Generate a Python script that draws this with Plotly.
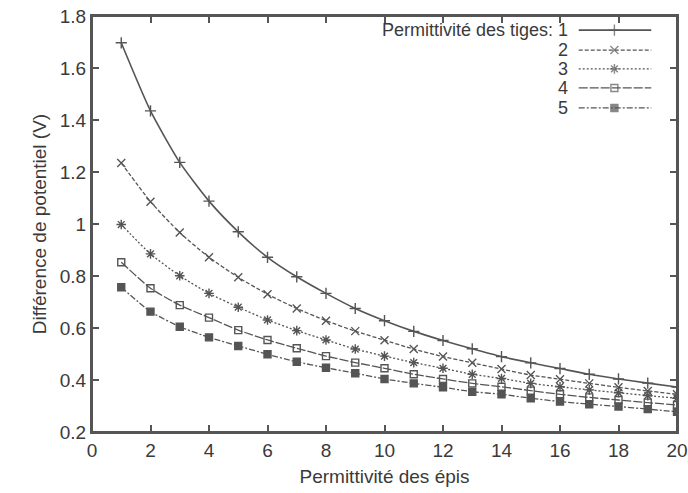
import plotly.graph_objects as go

x_vals = list(range(1, 21))
series_names = ["1", "2", "3", "4", "5"]
s1 = [1.697, 1.435, 1.237, 1.088, 0.970, 0.872, 0.797, 0.733, 0.675, 0.628,
      0.587, 0.552, 0.520, 0.490, 0.466, 0.444, 0.422, 0.404, 0.388, 0.373]
s2 = [1.235, 1.086, 0.967, 0.872, 0.795, 0.730, 0.675, 0.628, 0.588, 0.553,
      0.519, 0.490, 0.466, 0.442, 0.419, 0.403, 0.387, 0.372, 0.358, 0.345]
s3 = [0.998, 0.885, 0.801, 0.733, 0.680, 0.631, 0.590, 0.554, 0.519, 0.492,
      0.467, 0.445, 0.422, 0.406, 0.387, 0.374, 0.362, 0.351, 0.340, 0.330]
s4 = [0.853, 0.753, 0.688, 0.640, 0.592, 0.554, 0.522, 0.492, 0.467, 0.445,
      0.422, 0.404, 0.387, 0.374, 0.359, 0.345, 0.333, 0.323, 0.313, 0.304]
s5 = [0.757, 0.663, 0.605, 0.564, 0.531, 0.499, 0.470, 0.447, 0.426, 0.404,
      0.387, 0.372, 0.355, 0.345, 0.330, 0.317, 0.307, 0.298, 0.288, 0.278]
x_ticks = list(range(0, 21, 2))
y_ticks = [0.2, 0.4, 0.6, 0.8, 1.0, 1.2, 1.4, 1.6, 1.8]
y_tick_text = ["0.2", "0.4", "0.6", "0.8", "1", "1.2", "1.4", "1.6", "1.8"]

legend_title = "Permittivité des tiges: "
x_title = "Permittivité des épis"
y_title = "Différence de potentiel (V)"

COL = "#555555"
TXT = "#3a3a3a"
FONT = "Liberation Sans, Arial, sans-serif"
X_RANGE = [0, 20]
Y_RANGE = [0.2, 1.8]

styles = [
    dict(dash="solid", symbol="cross-thin-open", size=8, width=1.6),
    dict(dash="4px,2px", symbol="x-thin-open", size=8, width=1.3),
    dict(dash="2px,2px", symbol="asterisk-open", size=8, width=1.3),
    dict(dash="9px,2px", symbol="square-open", size=7, width=1.3),
    dict(dash="6px,2px,2px,2px", symbol="square", size=7, width=1.3),
]
all_series = [s1, s2, s3, s4, s5]

fig = go.Figure()
for name, ys, st in zip(series_names, all_series, styles):
    fig.add_trace(go.Scatter(
        x=x_vals, y=ys, mode="lines+markers", name=name, showlegend=False,
        line=dict(color=COL, width=st["width"], dash=st["dash"], shape="spline", smoothing=0.6),
        marker=dict(symbol=st["symbol"], size=st["size"], color=COL,
                    line=dict(color=COL, width=1.4)),
    ))


def fx(f):
    return X_RANGE[0] + f * (X_RANGE[1] - X_RANGE[0])


def fy(f):
    return Y_RANGE[0] + f * (Y_RANGE[1] - Y_RANGE[0])


# manual legend (text on the left, samples on the right), placed by plot fractions
leg_y = [0.966, 0.918, 0.873, 0.827, 0.779]
for i, (name, st) in enumerate(zip(series_names, styles)):
    fig.add_trace(go.Scatter(
        x=[fx(0.832), fx(0.893), fx(0.956)], y=[fy(leg_y[i])] * 3,
        mode="lines+markers", showlegend=False, hoverinfo="skip",
        line=dict(color=COL, width=st["width"], dash=st["dash"]),
        marker=dict(symbol=st["symbol"], size=[0, st["size"], 0], color=COL,
                    line=dict(color=COL, width=1.4)),
    ))
    label = (legend_title + name) if i == 0 else name
    fig.add_annotation(x=0.817, y=leg_y[i], xref="x domain", yref="y domain", text=label,
                       showarrow=False, xanchor="right", yanchor="middle",
                       font=dict(family=FONT, size=18, color=TXT))

# plot frame
fig.add_shape(type="rect", xref="x domain", yref="y domain", x0=0, x1=1, y0=0, y1=1,
              line=dict(color=COL, width=2), layer="above")

axis_common = dict(
    showline=True, linecolor=COL, linewidth=2, mirror="allticks",
    ticks="inside", ticklen=7, tickwidth=1.5, tickcolor=COL,
    showgrid=False, zeroline=False, automargin=False,
    ticklabeloverflow="allow",
    tickfont=dict(family=FONT, size=19, color=TXT),
)
fig.update_layout(
    width=688, height=493,
    margin=dict(l=92, r=11, t=16, b=61),
    paper_bgcolor="white", plot_bgcolor="white",
    xaxis=dict(range=X_RANGE, tickvals=x_ticks, **axis_common,
               title=dict(text=x_title, font=dict(family=FONT, size=19, color=TXT), standoff=10)),
    yaxis=dict(range=Y_RANGE, tickvals=y_ticks, ticktext=y_tick_text, **axis_common,
               title=dict(text=y_title, font=dict(family=FONT, size=19, color=TXT), standoff=8)),
    showlegend=False,
)

fig.write_html("out.html", config={"displayModeBar": False},
               post_script="document.body.style.margin='0px';document.body.style.overflow='hidden';")
